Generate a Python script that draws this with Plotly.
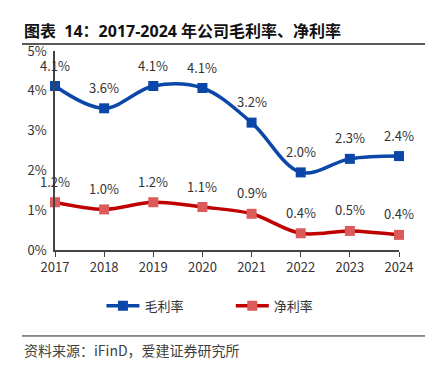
import plotly.graph_objects as go

years = [2017, 2018, 2019, 2020, 2021, 2022, 2023, 2024]
gross_margin = [4.12, 3.56, 4.12, 4.07, 3.20, 1.95, 2.29, 2.36]
net_margin = [1.20, 1.02, 1.20, 1.08, 0.91, 0.42, 0.48, 0.38]
gross_labels = ["4.1%", "3.6%", "4.1%", "4.1%", "3.2%", "2.0%", "2.3%", "2.4%"]
net_labels = ["1.2%", "1.0%", "1.2%", "1.1%", "0.9%", "0.4%", "0.5%", "0.4%"]
y_ticks = [0, 1, 2, 3, 4, 5]
y_tick_text = ["0%", "1%", "2%", "3%", "4%", "5%"]

FONT = "Noto Sans CJK SC"
TITLE_FONT = "Noto Sans, Noto Sans CJK SC"
TXT = "#333333"

fig = go.Figure()
fig.add_trace(go.Scatter(
    x=years, y=gross_margin, name="毛利率", mode="lines+markers",
    line=dict(color="#0A47A8", width=3.5, shape="spline", smoothing=1.0),
    marker=dict(symbol="square", size=10, color="#0A47A8"),
    cliponaxis=False, legend="legend",
))
fig.add_trace(go.Scatter(
    x=years, y=net_margin, name="净利率", mode="lines+markers",
    line=dict(color="#C00000", width=3.5, shape="spline", smoothing=1.0),
    marker=dict(symbol="square", size=10, color="#DD5A5A"),
    cliponaxis=False, legend="legend2",
))

for x, y, t in zip(years, gross_margin, gross_labels):
    fig.add_annotation(x=x, y=y, text=t, showarrow=False, yshift=21,
                       font=dict(family=FONT, size=13, color=TXT))
for x, y, t in zip(years, net_margin, net_labels):
    fig.add_annotation(x=x, y=y, text=t, showarrow=False, yshift=21,
                       font=dict(family=FONT, size=13, color=TXT))

# title
fig.add_annotation(xref="paper", yref="paper", x=-0.096, y=1.035,
                   xanchor="left", yanchor="bottom", showarrow=False,
                   text="<b>图表  14：2017-2024 年公司毛利率、净利率</b>",
                   font=dict(family=TITLE_FONT, size=16, color="#111111"))
fig.add_shape(type="line", xref="paper", yref="paper", x0=-0.096, x1=1.076,
              y0=1.035, y1=1.035, line=dict(color="#222222", width=1.5))
# source
fig.add_shape(type="line", xref="paper", yref="paper", x0=-0.096, x1=1.076,
              y0=-0.432, y1=-0.432, line=dict(color="#222222", width=1))
fig.add_annotation(xref="paper", yref="paper", x=-0.096, y=-0.505,
                   xanchor="left", yanchor="middle", showarrow=False,
                   text="资料来源：iFinD，爱建证券研究所",
                   font=dict(family=FONT, size=14, color="#404040"))

legend_common = dict(orientation="h", yanchor="middle", y=-0.28, xanchor="left",
                     font=dict(family=FONT, size=13, color=TXT), itemwidth=33,
                     bgcolor="rgba(0,0,0,0)")

fig.update_layout(
    width=425, height=361,
    margin=dict(l=47, r=34, t=43, b=119),
    paper_bgcolor="white", plot_bgcolor="white",
    font=dict(family=FONT, size=13, color=TXT),
    showlegend=True,
    legend=dict(x=0.135, **legend_common),
    legend2=dict(x=0.511, **legend_common),
    xaxis=dict(range=[2017, 2024], tickmode="array", tickvals=years,
               ticktext=[str(y) for y in years], showgrid=False, zeroline=False,
               showline=True, linecolor="#444444", linewidth=1.5,
               ticks="outside", ticklen=5, tickcolor="#444444",
               tickfont=dict(family=FONT, size=13, color=TXT)),
    yaxis=dict(range=[0, 5], tickmode="array", tickvals=y_ticks, ticktext=y_tick_text,
               showgrid=False, zeroline=False, showline=True, linecolor="#444444",
               linewidth=1.5, ticks="", ticklabelstandoff=4,
               tickfont=dict(family=FONT, size=13, color=TXT)),
)

fig.write_html("out.html")
